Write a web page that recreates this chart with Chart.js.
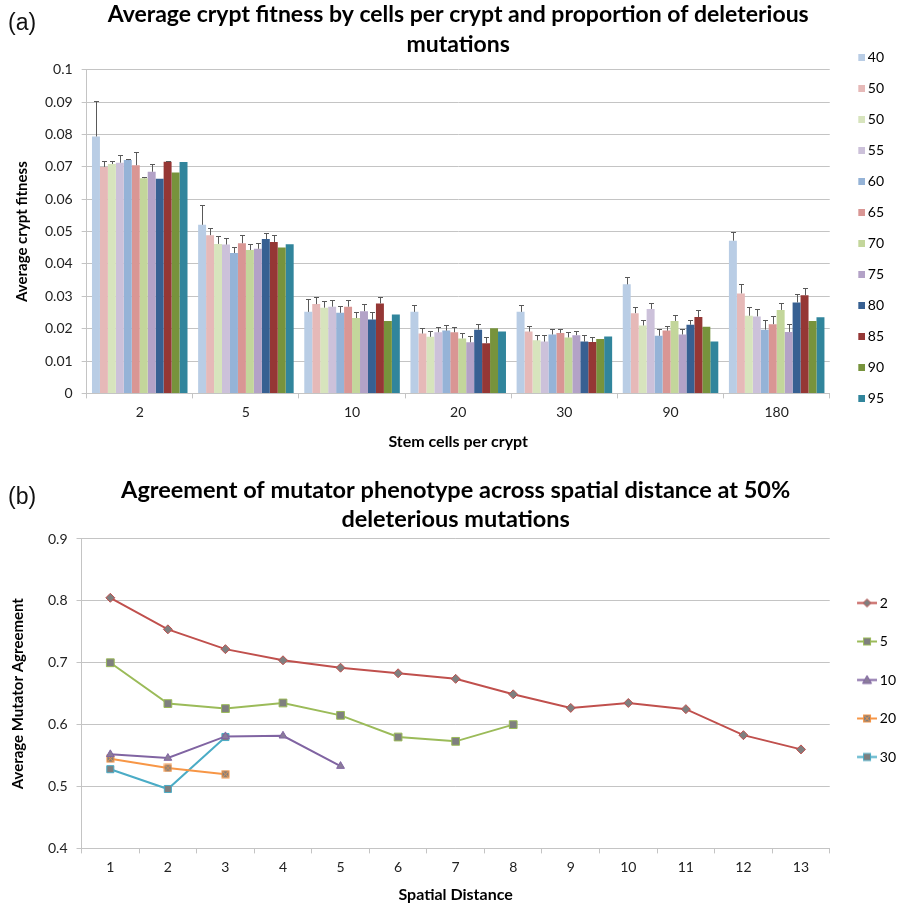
<!DOCTYPE html>
<html>
<head>
<meta charset="utf-8">
<title>Crypt fitness and mutator agreement</title>
<script src="https://cdn.jsdelivr.net/npm/chart.js@4.4.0/dist/chart.umd.js"></script>
<style>
  html, body { margin: 0; padding: 0; background: #fff; }
  #page { position: relative; width: 909px; height: 905px; overflow: hidden; }
  canvas { position: absolute; left: 0; }
  #fitness { top: 0; }
  #agreement { top: 455px; }
  .panel { position: absolute; left: 8px; font: 23px 'Liberation Sans', sans-serif; color: #111; }
</style>
</head>
<body>
<div id="page">
  <canvas id="fitness" width="909" height="455"></canvas>
  <canvas id="agreement" width="909" height="450"></canvas>
  <div class="panel" style="top:9px">(a)</div>
  <div class="panel" style="top:483px">(b)</div>
</div>
<script>
// ---------- (a) average crypt fitness ----------
const stemCells = ['2', '5', '10', '20', '30', '90', '180']
const fitnessLabels = ['40', '50', '50', '55', '60', '65', '70', '75', '80', '85', '90', '95']
const fitnessColors = ['#B9CDE5', '#E6B9B8', '#D7E4BD', '#CCC1DA', '#95B3D7', '#D99694',
                       '#C3D69B', '#B3A2C7', '#376092', '#953735', '#77933C', '#31859C']

const fit40  = [0.0794, 0.0521, 0.0252, 0.0252, 0.0252, 0.0337, 0.0472]
const fit50a = [0.0700, 0.0489, 0.0276, 0.0185, 0.0191, 0.0248, 0.0309]
const fit50b = [0.0709, 0.0462, 0.0265, 0.0175, 0.0164, 0.0210, 0.0240]
const fit55  = [0.0713, 0.0460, 0.0268, 0.0189, 0.0160, 0.0261, 0.0238]
const fit60  = [0.0721, 0.0434, 0.0249, 0.0194, 0.0182, 0.0178, 0.0197]
const fit65  = [0.0705, 0.0464, 0.0268, 0.0189, 0.0187, 0.0194, 0.0214]
const fit70  = [0.0665, 0.0443, 0.0233, 0.0170, 0.0173, 0.0224, 0.0258]
const fit75  = [0.0685, 0.0447, 0.0254, 0.0158, 0.0180, 0.0182, 0.0190]
const fit80  = [0.0663, 0.0477, 0.0228, 0.0197, 0.0160, 0.0212, 0.0281]
const fit85  = [0.0716, 0.0468, 0.0278, 0.0155, 0.0159, 0.0236, 0.0303]
const fit90  = [0.0683, 0.0451, 0.0224, 0.0201, 0.0168, 0.0206, 0.0224]
const fit95  = [0.0715, 0.0461, 0.0244, 0.0191, 0.0176, 0.0160, 0.0235]

// upper error bar lengths (90 and 95 have none)
const err40  = [0.0111, 0.0061, 0.0040, 0.0020, 0.0021, 0.0022, 0.0026]
const err50a = [0.0018, 0.0021, 0.0021, 0.0017, 0.0017, 0.0018, 0.0028]
const err50b = [0.0009, 0.0025, 0.0020, 0.0019, 0.0016, 0.0017, 0.0026]
const err55  = [0.0024, 0.0021, 0.0021, 0.0017, 0.0019, 0.0017, 0.0022]
const err60  = [0.0003, 0.0019, 0.0020, 0.0017, 0.0017, 0.0021, 0.0031]
const err65  = [0.0040, 0.0025, 0.0020, 0.0016, 0.0013, 0.0014, 0.0024]
const err70  = [0.0003, 0.0020, 0.0020, 0.0016, 0.0017, 0.0018, 0.0022]
const err75  = [0.0025, 0.0019, 0.0023, 0.0019, 0.0014, 0.0017, 0.0023]
const err80  = [0, 0.0020, 0.0025, 0.0019, 0.0019, 0.0016, 0.0026]
const err85  = [0.0003, 0.0021, 0.0019, 0.0018, 0.0015, 0.0021, 0.0024]

const fitnessValues = [fit40, fit50a, fit50b, fit55, fit60, fit65, fit70, fit75, fit80, fit85, fit90, fit95]
const fitnessErrors = [err40, err50a, err50b, err55, err60, err65, err70, err75, err80, err85, null, null]

// ---------- (b) mutator agreement ----------
const distances = ['1', '2', '3', '4', '5', '6', '7', '8', '9', '10', '11', '12', '13']
const agreeLabels = ['2', '5', '10', '20', '30']
const agreeColors = ['#C0504D', '#9BBB59', '#8064A2', '#F79646', '#4BACC6']
const agree2  = [0.805, 0.754, 0.722, 0.704, 0.692, 0.683, 0.674, 0.649, 0.627, 0.635, 0.625, 0.583, 0.560]
const agree5  = [0.700, 0.634, 0.626, 0.635, 0.615, 0.580, 0.573, 0.600]
const agree10 = [0.552, 0.546, 0.581, 0.582, 0.533]
const agree20 = [0.545, 0.530, 0.520]
const agree30 = [0.528, 0.496, 0.580]
const agreeValues = [agree2, agree5, agree10, agree20, agree30]

const FONT = 'Lato'
const GRID = '#C4C4C4'
const MARK = '#7F7F7F'

// small offscreen canvases used as point / legend symbols
function markerImage(width, height, draw) {
  const c = document.createElement('canvas')
  c.width = width
  c.height = height
  draw(c.getContext('2d'))
  return c
}

function diamond(ctx, x, y, color) {
  ctx.beginPath()
  ctx.moveTo(x, y - 4); ctx.lineTo(x + 4, y); ctx.lineTo(x, y + 4); ctx.lineTo(x - 4, y)
  ctx.closePath()
  ctx.fillStyle = MARK; ctx.fill()
  ctx.strokeStyle = color; ctx.lineWidth = 1; ctx.stroke()
}
function square(ctx, x, y, color) {
  ctx.fillStyle = MARK
  ctx.fillRect(x - 3.5, y - 3.5, 7, 7)
  ctx.strokeStyle = color; ctx.lineWidth = 1
  ctx.strokeRect(x - 3.5, y - 3.5, 7, 7)
}
function triangle(ctx, x, y, color) {
  ctx.beginPath()
  ctx.moveTo(x, y - 4.5); ctx.lineTo(x + 4.5, y + 3.5); ctx.lineTo(x - 4.5, y + 3.5)
  ctx.closePath()
  ctx.fillStyle = '#8A7C9A'; ctx.fill()
  ctx.strokeStyle = color; ctx.lineWidth = 1; ctx.stroke()
}
function squareX(ctx, x, y, color) {
  square(ctx, x, y, color)
  ctx.beginPath()
  ctx.moveTo(x - 3, y - 3); ctx.lineTo(x + 3, y + 3)
  ctx.moveTo(x + 3, y - 3); ctx.lineTo(x - 3, y + 3)
  ctx.stroke()
}
const markerDraw = [diamond, square, triangle, squareX, square]

// legend symbols: colored square (a), line with marker (b)
const barLegendImages = fitnessColors.map(color => markerImage(23, 7, ctx => {
  ctx.fillStyle = color
  ctx.fillRect(16, 0, 7, 7)
}))
const lineLegendImages = agreeColors.map((color, i) => markerImage(27, 11, ctx => {
  ctx.strokeStyle = color
  ctx.lineWidth = 2
  ctx.beginPath(); ctx.moveTo(7, 5.5); ctx.lineTo(27, 5.5); ctx.stroke()
  markerDraw[i](ctx, 17, 5.5, color)
}))
const crossSquare = markerImage(9, 9, ctx => squareX(ctx, 4.5, 4.5, agreeColors[3]))

function legendWithImages(images) {
  return chart => Chart.defaults.plugins.legend.labels.generateLabels(chart)
    .map((item, i) => ({ ...item, pointStyle: images[i] }))
}

// upper error bars drawn from the y scale
const errorBars = {
  id: 'errorBars',
  afterDatasetsDraw(chart) {
    const { ctx } = chart
    const y = chart.scales.y
    ctx.save()
    ctx.strokeStyle = '#595959'
    ctx.lineWidth = 1
    chart.data.datasets.forEach((ds, i) => {
      if (!ds.errors) return
      chart.getDatasetMeta(i).data.forEach((bar, j) => {
        const err = ds.errors[j]
        if (!err) return
        const top = Math.round(y.getPixelForValue(ds.data[j] + err)) + 0.5
        const x = Math.round(bar.x) + 0.5
        ctx.beginPath()
        ctx.moveTo(x, bar.y)
        ctx.lineTo(x, top)
        ctx.moveTo(x - 2.5, top)
        ctx.lineTo(x + 2.5, top)
        ctx.stroke()
      })
    })
    ctx.restore()
  }
}

const tickFont = { family: FONT, size: 14 }
const xTitleFont = { family: FONT, size: 16, weight: 'bold' }
const yTitleFont = { family: FONT, size: 15, weight: 'bold' }

new Chart(document.getElementById('fitness'), {
  type: 'bar',
  data: {
    labels: stemCells,
    datasets: fitnessLabels.map((label, i) => ({
      label,
      data: fitnessValues[i],
      errors: fitnessErrors[i],
      backgroundColor: fitnessColors[i],
      borderWidth: 0,
      categoryPercentage: 0.9,
      barPercentage: 1
    }))
  },
  options: {
    responsive: false,
    animation: false,
    devicePixelRatio: 1,
    layout: { padding: { top: 0, right: 15, bottom: 0, left: 0 } },
    plugins: {
      title: {
        display: true,
        fullSize: false,
        text: ['Average crypt fitness by cells per crypt and proportion of deleterious', 'mutations'],
        color: '#000',
        font: { family: FONT, size: 23, weight: 'bold', lineHeight: 1.3 },
        padding: { top: 0, bottom: 10 }
      },
      legend: {
        position: 'right',
        align: 'center',
        labels: {
          usePointStyle: true,
          pointStyleWidth: 14,
          boxHeight: 7,
          padding: 17,
          color: '#000',
          font: { family: FONT, size: 14 },
          generateLabels: legendWithImages(barLegendImages)
        }
      },
      tooltip: { enabled: false }
    },
    scales: {
      x: {
        ticks: { padding: 5.6, color: '#222', font: tickFont },
        grid: { drawOnChartArea: false, tickLength: 5, color: GRID },
        border: { color: GRID },
        title: { display: true, text: 'Stem cells per crypt', color: '#000', font: xTitleFont, padding: { top: 6, bottom: 3.4 } }
      },
      y: {
        min: 0,
        max: 0.1,
        ticks: { stepSize: 0.01, padding: 9, color: '#222', font: tickFont, callback: v => String(Math.round(v * 100) / 100) },
        grid: { color: GRID, tickLength: 5 },
        border: { color: GRID },
        title: { display: true, text: 'Average crypt fitness', color: '#000', font: yTitleFont, padding: { top: 12.7, bottom: 5.3 } }
      }
    }
  },
  plugins: [errorBars]
})

new Chart(document.getElementById('agreement'), {
  type: 'line',
  data: {
    labels: distances,
    datasets: agreeLabels.map((label, i) => ({
      label,
      data: agreeValues[i],
      borderColor: agreeColors[i],
      borderWidth: 2,
      tension: 0,
      pointStyle: ['rectRot', 'rect', 'triangle', crossSquare, 'rect'][i],
      pointRadius: [4.5, 5.5, 4.5, 5, 5][i],
      pointBackgroundColor: i === 2 ? '#8A7C9A' : MARK,
      pointBorderColor: agreeColors[i],
      pointBorderWidth: 1
    }))
  },
  options: {
    responsive: false,
    animation: false,
    devicePixelRatio: 1,
    layout: { padding: { top: 0, right: 3, bottom: 0, left: 0 } },
    plugins: {
      title: {
        display: true,
        fullSize: false,
        text: ['Agreement of mutator phenotype across spatial distance at 50%', 'deleterious mutations'],
        color: '#000',
        font: { family: FONT, size: 23.5, weight: 'bold', lineHeight: 1.234 },
        padding: { top: 20.5, bottom: 5.5 }
      },
      legend: {
        position: 'right',
        align: 'center',
        labels: {
          usePointStyle: true,
          pointStyleWidth: 18.5,
          boxHeight: 7,
          padding: 24.5,
          color: '#000',
          font: { family: FONT, size: 14 },
          generateLabels: legendWithImages(lineLegendImages)
        }
      },
      tooltip: { enabled: false }
    },
    scales: {
      x: {
        offset: true,
        ticks: { padding: 5.6, color: '#222', font: tickFont },
        grid: { offset: true, drawOnChartArea: false, tickLength: 5, color: GRID },
        border: { color: GRID },
        title: { display: true, text: 'Spatial Distance', color: '#000', font: xTitleFont, padding: { top: 4, bottom: 0.4 } }
      },
      y: {
        min: 0.4,
        max: 0.9,
        ticks: { stepSize: 0.1, padding: 9, color: '#222', font: tickFont, callback: v => v.toFixed(1) },
        grid: { color: GRID, tickLength: 5 },
        border: { color: GRID },
        title: { display: true, text: 'Average Mutator Agreement', color: '#000', font: yTitleFont, padding: { top: 9, bottom: 12 } }
      }
    }
  }
})
</script>
</body>
</html>
